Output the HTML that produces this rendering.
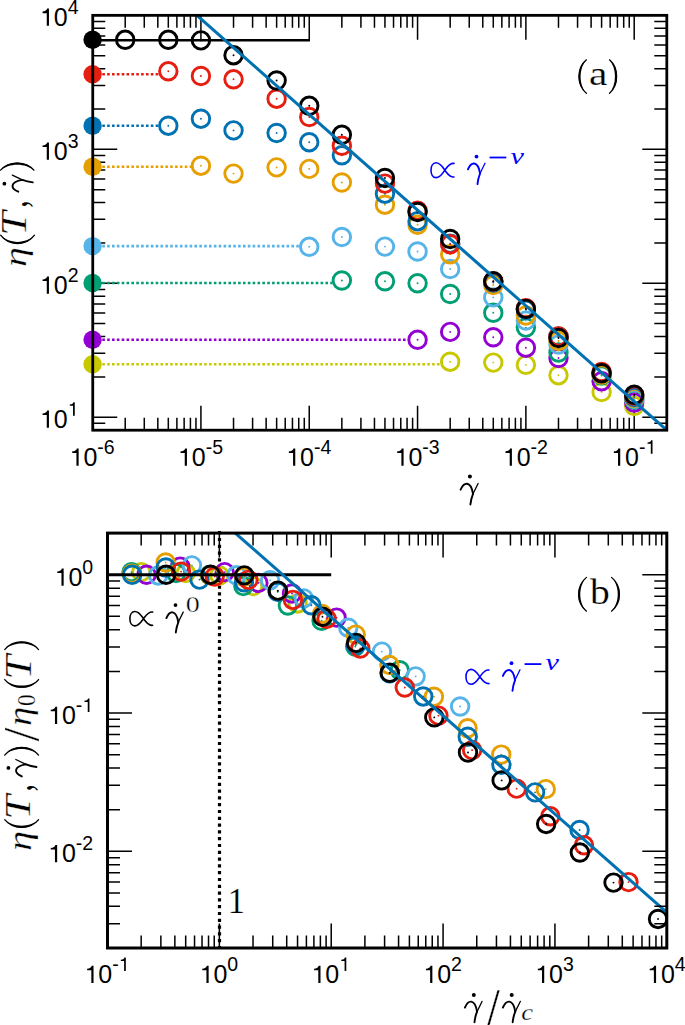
<!DOCTYPE html>
<html><head><meta charset="utf-8"><style>
html,body{margin:0;padding:0;background:#fff;}
svg{display:block;}
</style></head><body>
<svg width="685" height="1025" viewBox="0 0 685 1025">
<rect width="685" height="1025" fill="#fff"/>
<g>
<path d="M125.21 430.2V417.7M125.21 15.35V27.85M144.28 430.2V417.7M144.28 15.35V27.85M157.82 430.2V417.7M157.82 15.35V27.85M168.31 430.2V417.7M168.31 15.35V27.85M176.89 430.2V417.7M176.89 15.35V27.85M184.14 430.2V417.7M184.14 15.35V27.85M190.42 430.2V417.7M190.42 15.35V27.85M195.96 430.2V417.7M195.96 15.35V27.85M200.92 430.2V405.7M200.92 15.35V39.85M233.53 430.2V417.7M233.53 15.35V27.85M252.6 430.2V417.7M252.6 15.35V27.85M266.14 430.2V417.7M266.14 15.35V27.85M276.63 430.2V417.7M276.63 15.35V27.85M285.21 430.2V417.7M285.21 15.35V27.85M292.46 430.2V417.7M292.46 15.35V27.85M298.74 430.2V417.7M298.74 15.35V27.85M304.28 430.2V417.7M304.28 15.35V27.85M309.24 430.2V405.7M309.24 15.35V39.85M341.85 430.2V417.7M341.85 15.35V27.85M360.92 430.2V417.7M360.92 15.35V27.85M374.46 430.2V417.7M374.46 15.35V27.85M384.95 430.2V417.7M384.95 15.35V27.85M393.53 430.2V417.7M393.53 15.35V27.85M400.78 430.2V417.7M400.78 15.35V27.85M407.06 430.2V417.7M407.06 15.35V27.85M412.6 430.2V417.7M412.6 15.35V27.85M417.56 430.2V405.7M417.56 15.35V39.85M450.17 430.2V417.7M450.17 15.35V27.85M469.24 430.2V417.7M469.24 15.35V27.85M482.78 430.2V417.7M482.78 15.35V27.85M493.27 430.2V417.7M493.27 15.35V27.85M501.85 430.2V417.7M501.85 15.35V27.85M509.1 430.2V417.7M509.1 15.35V27.85M515.38 430.2V417.7M515.38 15.35V27.85M520.92 430.2V417.7M520.92 15.35V27.85M525.88 430.2V405.7M525.88 15.35V39.85M558.49 430.2V417.7M558.49 15.35V27.85M577.56 430.2V417.7M577.56 15.35V27.85M591.1 430.2V417.7M591.1 15.35V27.85M601.59 430.2V417.7M601.59 15.35V27.85M610.17 430.2V417.7M610.17 15.35V27.85M617.42 430.2V417.7M617.42 15.35V27.85M623.7 430.2V417.7M623.7 15.35V27.85M629.24 430.2V417.7M629.24 15.35V27.85M634.2 430.2V405.7M634.2 15.35V39.85M92.75 423.36H105.25M666.8 423.36H654.3M92.75 417.23H117.25M666.8 417.23H642.3M92.75 376.9H105.25M666.8 376.9H654.3M92.75 353.31H105.25M666.8 353.31H654.3M92.75 336.58H105.25M666.8 336.58H654.3M92.75 323.6H105.25M666.8 323.6H654.3M92.75 312.99H105.25M666.8 312.99H654.3M92.75 304.02H105.25M666.8 304.02H654.3M92.75 296.25H105.25M666.8 296.25H654.3M92.75 289.4H105.25M666.8 289.4H654.3M92.75 283.27H117.25M666.8 283.27H642.3M92.75 242.94H105.25M666.8 242.94H654.3M92.75 219.35H105.25M666.8 219.35H654.3M92.75 202.62H105.25M666.8 202.62H654.3M92.75 189.64H105.25M666.8 189.64H654.3M92.75 179.03H105.25M666.8 179.03H654.3M92.75 170.06H105.25M666.8 170.06H654.3M92.75 162.29H105.25M666.8 162.29H654.3M92.75 155.44H105.25M666.8 155.44H654.3M92.75 149.31H117.25M666.8 149.31H642.3M92.75 108.98H105.25M666.8 108.98H654.3M92.75 85.39H105.25M666.8 85.39H654.3M92.75 68.66H105.25M666.8 68.66H654.3M92.75 55.68H105.25M666.8 55.68H654.3M92.75 45.07H105.25M666.8 45.07H654.3M92.75 36.1H105.25M666.8 36.1H654.3M92.75 28.33H105.25M666.8 28.33H654.3M92.75 21.48H105.25M666.8 21.48H654.3" stroke="#000" stroke-width="1.5" fill="none"/>
<path d="M92.6 364.2H440.42" stroke="#C8C800" stroke-width="2.6" stroke-dasharray="2.6 2.25" fill="none"/>
<path d="M92.6 339.8H407.81" stroke="#9400D3" stroke-width="2.6" stroke-dasharray="2.6 2.25" fill="none"/>
<path d="M92.6 283H332.1" stroke="#009E73" stroke-width="2.6" stroke-dasharray="2.6 2.25" fill="none"/>
<path d="M92.6 246.1H299.49" stroke="#56B4E9" stroke-width="2.6" stroke-dasharray="2.6 2.25" fill="none"/>
<path d="M92.6 166.8H191.17" stroke="#E69F00" stroke-width="2.6" stroke-dasharray="2.6 2.25" fill="none"/>
<path d="M92.6 125.7H158.56" stroke="#0072B2" stroke-width="2.6" stroke-dasharray="2.6 2.25" fill="none"/>
<path d="M92.6 74.3H158.56" stroke="#E51E10" stroke-width="2.6" stroke-dasharray="2.6 2.25" fill="none"/>
<circle cx="450.17" cy="361.7" r="8.75" fill="none" stroke="#C8C800" stroke-width="2.9"/>
<circle cx="450.17" cy="361.7" r="0.95" fill="#C8C800"/>
<circle cx="493.27" cy="362.6" r="8.75" fill="none" stroke="#C8C800" stroke-width="2.9"/>
<circle cx="493.27" cy="362.6" r="0.95" fill="#C8C800"/>
<circle cx="525.88" cy="364.9" r="8.75" fill="none" stroke="#C8C800" stroke-width="2.9"/>
<circle cx="525.88" cy="364.9" r="0.95" fill="#C8C800"/>
<circle cx="558.49" cy="375.2" r="8.75" fill="none" stroke="#C8C800" stroke-width="2.9"/>
<circle cx="558.49" cy="375.2" r="0.95" fill="#C8C800"/>
<circle cx="601.59" cy="392" r="8.75" fill="none" stroke="#C8C800" stroke-width="2.9"/>
<circle cx="601.59" cy="392" r="0.95" fill="#C8C800"/>
<circle cx="634.2" cy="406" r="8.75" fill="none" stroke="#C8C800" stroke-width="2.9"/>
<circle cx="634.2" cy="406" r="0.95" fill="#C8C800"/>
<circle cx="417.56" cy="339.8" r="8.75" fill="none" stroke="#9400D3" stroke-width="2.9"/>
<circle cx="417.56" cy="339.8" r="0.95" fill="#9400D3"/>
<circle cx="450.17" cy="331.9" r="8.75" fill="none" stroke="#9400D3" stroke-width="2.9"/>
<circle cx="450.17" cy="331.9" r="0.95" fill="#9400D3"/>
<circle cx="493.27" cy="337.3" r="8.75" fill="none" stroke="#9400D3" stroke-width="2.9"/>
<circle cx="493.27" cy="337.3" r="0.95" fill="#9400D3"/>
<circle cx="525.88" cy="347.7" r="8.75" fill="none" stroke="#9400D3" stroke-width="2.9"/>
<circle cx="525.88" cy="347.7" r="0.95" fill="#9400D3"/>
<circle cx="558.49" cy="358" r="8.75" fill="none" stroke="#9400D3" stroke-width="2.9"/>
<circle cx="558.49" cy="358" r="0.95" fill="#9400D3"/>
<circle cx="601.59" cy="381.3" r="8.75" fill="none" stroke="#9400D3" stroke-width="2.9"/>
<circle cx="601.59" cy="381.3" r="0.95" fill="#9400D3"/>
<circle cx="634.2" cy="402.5" r="8.75" fill="none" stroke="#9400D3" stroke-width="2.9"/>
<circle cx="634.2" cy="402.5" r="0.95" fill="#9400D3"/>
<circle cx="341.85" cy="280.5" r="8.75" fill="none" stroke="#009E73" stroke-width="2.9"/>
<circle cx="341.85" cy="280.5" r="0.95" fill="#009E73"/>
<circle cx="384.95" cy="281.3" r="8.75" fill="none" stroke="#009E73" stroke-width="2.9"/>
<circle cx="384.95" cy="281.3" r="0.95" fill="#009E73"/>
<circle cx="417.56" cy="283.3" r="8.75" fill="none" stroke="#009E73" stroke-width="2.9"/>
<circle cx="417.56" cy="283.3" r="0.95" fill="#009E73"/>
<circle cx="450.17" cy="294" r="8.75" fill="none" stroke="#009E73" stroke-width="2.9"/>
<circle cx="450.17" cy="294" r="0.95" fill="#009E73"/>
<circle cx="493.27" cy="312.8" r="8.75" fill="none" stroke="#009E73" stroke-width="2.9"/>
<circle cx="493.27" cy="312.8" r="0.95" fill="#009E73"/>
<circle cx="525.88" cy="327.6" r="8.75" fill="none" stroke="#009E73" stroke-width="2.9"/>
<circle cx="525.88" cy="327.6" r="0.95" fill="#009E73"/>
<circle cx="558.49" cy="352.5" r="8.75" fill="none" stroke="#009E73" stroke-width="2.9"/>
<circle cx="558.49" cy="352.5" r="0.95" fill="#009E73"/>
<circle cx="601.59" cy="375.5" r="8.75" fill="none" stroke="#009E73" stroke-width="2.9"/>
<circle cx="601.59" cy="375.5" r="0.95" fill="#009E73"/>
<circle cx="634.2" cy="399.6" r="8.75" fill="none" stroke="#009E73" stroke-width="2.9"/>
<circle cx="634.2" cy="399.6" r="0.95" fill="#009E73"/>
<circle cx="309.24" cy="246.8" r="8.75" fill="none" stroke="#56B4E9" stroke-width="2.9"/>
<circle cx="309.24" cy="246.8" r="0.95" fill="#56B4E9"/>
<circle cx="341.85" cy="237" r="8.75" fill="none" stroke="#56B4E9" stroke-width="2.9"/>
<circle cx="341.85" cy="237" r="0.95" fill="#56B4E9"/>
<circle cx="384.95" cy="246.6" r="8.75" fill="none" stroke="#56B4E9" stroke-width="2.9"/>
<circle cx="384.95" cy="246.6" r="0.95" fill="#56B4E9"/>
<circle cx="417.56" cy="251.5" r="8.75" fill="none" stroke="#56B4E9" stroke-width="2.9"/>
<circle cx="417.56" cy="251.5" r="0.95" fill="#56B4E9"/>
<circle cx="450.17" cy="269" r="8.75" fill="none" stroke="#56B4E9" stroke-width="2.9"/>
<circle cx="450.17" cy="269" r="0.95" fill="#56B4E9"/>
<circle cx="493.27" cy="297.4" r="8.75" fill="none" stroke="#56B4E9" stroke-width="2.9"/>
<circle cx="493.27" cy="297.4" r="0.95" fill="#56B4E9"/>
<circle cx="525.88" cy="320.6" r="8.75" fill="none" stroke="#56B4E9" stroke-width="2.9"/>
<circle cx="525.88" cy="320.6" r="0.95" fill="#56B4E9"/>
<circle cx="558.49" cy="344.6" r="8.75" fill="none" stroke="#56B4E9" stroke-width="2.9"/>
<circle cx="558.49" cy="344.6" r="0.95" fill="#56B4E9"/>
<circle cx="601.59" cy="373.7" r="8.75" fill="none" stroke="#56B4E9" stroke-width="2.9"/>
<circle cx="601.59" cy="373.7" r="0.95" fill="#56B4E9"/>
<circle cx="634.2" cy="399" r="8.75" fill="none" stroke="#56B4E9" stroke-width="2.9"/>
<circle cx="634.2" cy="399" r="0.95" fill="#56B4E9"/>
<circle cx="200.92" cy="165.7" r="8.75" fill="none" stroke="#E69F00" stroke-width="2.9"/>
<circle cx="200.92" cy="165.7" r="0.95" fill="#E69F00"/>
<circle cx="233.53" cy="173.6" r="8.75" fill="none" stroke="#E69F00" stroke-width="2.9"/>
<circle cx="233.53" cy="173.6" r="0.95" fill="#E69F00"/>
<circle cx="276.63" cy="167.4" r="8.75" fill="none" stroke="#E69F00" stroke-width="2.9"/>
<circle cx="276.63" cy="167.4" r="0.95" fill="#E69F00"/>
<circle cx="309.24" cy="168.9" r="8.75" fill="none" stroke="#E69F00" stroke-width="2.9"/>
<circle cx="309.24" cy="168.9" r="0.95" fill="#E69F00"/>
<circle cx="341.85" cy="182.5" r="8.75" fill="none" stroke="#E69F00" stroke-width="2.9"/>
<circle cx="341.85" cy="182.5" r="0.95" fill="#E69F00"/>
<circle cx="384.95" cy="204.7" r="8.75" fill="none" stroke="#E69F00" stroke-width="2.9"/>
<circle cx="384.95" cy="204.7" r="0.95" fill="#E69F00"/>
<circle cx="417.56" cy="224.8" r="8.75" fill="none" stroke="#E69F00" stroke-width="2.9"/>
<circle cx="417.56" cy="224.8" r="0.95" fill="#E69F00"/>
<circle cx="450.17" cy="254.2" r="8.75" fill="none" stroke="#E69F00" stroke-width="2.9"/>
<circle cx="450.17" cy="254.2" r="0.95" fill="#E69F00"/>
<circle cx="493.27" cy="285" r="8.75" fill="none" stroke="#E69F00" stroke-width="2.9"/>
<circle cx="493.27" cy="285" r="0.95" fill="#E69F00"/>
<circle cx="525.88" cy="315.5" r="8.75" fill="none" stroke="#E69F00" stroke-width="2.9"/>
<circle cx="525.88" cy="315.5" r="0.95" fill="#E69F00"/>
<circle cx="558.49" cy="341" r="8.75" fill="none" stroke="#E69F00" stroke-width="2.9"/>
<circle cx="558.49" cy="341" r="0.95" fill="#E69F00"/>
<circle cx="601.59" cy="374.5" r="8.75" fill="none" stroke="#E69F00" stroke-width="2.9"/>
<circle cx="601.59" cy="374.5" r="0.95" fill="#E69F00"/>
<circle cx="634.2" cy="398" r="8.75" fill="none" stroke="#E69F00" stroke-width="2.9"/>
<circle cx="634.2" cy="398" r="0.95" fill="#E69F00"/>
<circle cx="168.31" cy="125.7" r="8.75" fill="none" stroke="#0072B2" stroke-width="2.9"/>
<circle cx="168.31" cy="125.7" r="0.95" fill="#0072B2"/>
<circle cx="200.92" cy="118.7" r="8.75" fill="none" stroke="#0072B2" stroke-width="2.9"/>
<circle cx="200.92" cy="118.7" r="0.95" fill="#0072B2"/>
<circle cx="233.53" cy="130.4" r="8.75" fill="none" stroke="#0072B2" stroke-width="2.9"/>
<circle cx="233.53" cy="130.4" r="0.95" fill="#0072B2"/>
<circle cx="276.63" cy="133" r="8.75" fill="none" stroke="#0072B2" stroke-width="2.9"/>
<circle cx="276.63" cy="133" r="0.95" fill="#0072B2"/>
<circle cx="309.24" cy="142.2" r="8.75" fill="none" stroke="#0072B2" stroke-width="2.9"/>
<circle cx="309.24" cy="142.2" r="0.95" fill="#0072B2"/>
<circle cx="341.85" cy="155.3" r="8.75" fill="none" stroke="#0072B2" stroke-width="2.9"/>
<circle cx="341.85" cy="155.3" r="0.95" fill="#0072B2"/>
<circle cx="384.95" cy="193.7" r="8.75" fill="none" stroke="#0072B2" stroke-width="2.9"/>
<circle cx="384.95" cy="193.7" r="0.95" fill="#0072B2"/>
<circle cx="417.56" cy="221.2" r="8.75" fill="none" stroke="#0072B2" stroke-width="2.9"/>
<circle cx="417.56" cy="221.2" r="0.95" fill="#0072B2"/>
<circle cx="450.17" cy="243.6" r="8.75" fill="none" stroke="#0072B2" stroke-width="2.9"/>
<circle cx="450.17" cy="243.6" r="0.95" fill="#0072B2"/>
<circle cx="493.27" cy="282.6" r="8.75" fill="none" stroke="#0072B2" stroke-width="2.9"/>
<circle cx="493.27" cy="282.6" r="0.95" fill="#0072B2"/>
<circle cx="525.88" cy="309.8" r="8.75" fill="none" stroke="#0072B2" stroke-width="2.9"/>
<circle cx="525.88" cy="309.8" r="0.95" fill="#0072B2"/>
<circle cx="558.49" cy="336.5" r="8.75" fill="none" stroke="#0072B2" stroke-width="2.9"/>
<circle cx="558.49" cy="336.5" r="0.95" fill="#0072B2"/>
<circle cx="601.59" cy="372.9" r="8.75" fill="none" stroke="#0072B2" stroke-width="2.9"/>
<circle cx="601.59" cy="372.9" r="0.95" fill="#0072B2"/>
<circle cx="634.2" cy="397" r="8.75" fill="none" stroke="#0072B2" stroke-width="2.9"/>
<circle cx="634.2" cy="397" r="0.95" fill="#0072B2"/>
<circle cx="168.31" cy="71.3" r="8.75" fill="none" stroke="#E51E10" stroke-width="2.9"/>
<circle cx="168.31" cy="71.3" r="0.95" fill="#E51E10"/>
<circle cx="200.92" cy="76" r="8.75" fill="none" stroke="#E51E10" stroke-width="2.9"/>
<circle cx="200.92" cy="76" r="0.95" fill="#E51E10"/>
<circle cx="233.53" cy="79.3" r="8.75" fill="none" stroke="#E51E10" stroke-width="2.9"/>
<circle cx="233.53" cy="79.3" r="0.95" fill="#E51E10"/>
<circle cx="276.63" cy="98.7" r="8.75" fill="none" stroke="#E51E10" stroke-width="2.9"/>
<circle cx="276.63" cy="98.7" r="0.95" fill="#E51E10"/>
<circle cx="309.24" cy="117" r="8.75" fill="none" stroke="#E51E10" stroke-width="2.9"/>
<circle cx="309.24" cy="117" r="0.95" fill="#E51E10"/>
<circle cx="341.85" cy="145.8" r="8.75" fill="none" stroke="#E51E10" stroke-width="2.9"/>
<circle cx="341.85" cy="145.8" r="0.95" fill="#E51E10"/>
<circle cx="384.95" cy="183.6" r="8.75" fill="none" stroke="#E51E10" stroke-width="2.9"/>
<circle cx="384.95" cy="183.6" r="0.95" fill="#E51E10"/>
<circle cx="417.56" cy="210.8" r="8.75" fill="none" stroke="#E51E10" stroke-width="2.9"/>
<circle cx="417.56" cy="210.8" r="0.95" fill="#E51E10"/>
<circle cx="450.17" cy="244.2" r="8.75" fill="none" stroke="#E51E10" stroke-width="2.9"/>
<circle cx="450.17" cy="244.2" r="0.95" fill="#E51E10"/>
<circle cx="493.27" cy="281.5" r="8.75" fill="none" stroke="#E51E10" stroke-width="2.9"/>
<circle cx="493.27" cy="281.5" r="0.95" fill="#E51E10"/>
<circle cx="525.88" cy="308.3" r="8.75" fill="none" stroke="#E51E10" stroke-width="2.9"/>
<circle cx="525.88" cy="308.3" r="0.95" fill="#E51E10"/>
<circle cx="558.49" cy="336.4" r="8.75" fill="none" stroke="#E51E10" stroke-width="2.9"/>
<circle cx="558.49" cy="336.4" r="0.95" fill="#E51E10"/>
<circle cx="601.59" cy="372" r="8.75" fill="none" stroke="#E51E10" stroke-width="2.9"/>
<circle cx="601.59" cy="372" r="0.95" fill="#E51E10"/>
<circle cx="634.2" cy="395.5" r="8.75" fill="none" stroke="#E51E10" stroke-width="2.9"/>
<circle cx="634.2" cy="395.5" r="0.95" fill="#E51E10"/>
<circle cx="125.21" cy="39.8" r="8.75" fill="none" stroke="#000000" stroke-width="2.9"/>
<circle cx="125.21" cy="39.8" r="0.95" fill="#000000"/>
<circle cx="168.31" cy="39.8" r="8.75" fill="none" stroke="#000000" stroke-width="2.9"/>
<circle cx="168.31" cy="39.8" r="0.95" fill="#000000"/>
<circle cx="200.92" cy="40.4" r="8.75" fill="none" stroke="#000000" stroke-width="2.9"/>
<circle cx="200.92" cy="40.4" r="0.95" fill="#000000"/>
<circle cx="233.53" cy="55.2" r="8.75" fill="none" stroke="#000000" stroke-width="2.9"/>
<circle cx="233.53" cy="55.2" r="0.95" fill="#000000"/>
<circle cx="276.63" cy="80.5" r="8.75" fill="none" stroke="#000000" stroke-width="2.9"/>
<circle cx="276.63" cy="80.5" r="0.95" fill="#000000"/>
<circle cx="309.24" cy="105.8" r="8.75" fill="none" stroke="#000000" stroke-width="2.9"/>
<circle cx="309.24" cy="105.8" r="0.95" fill="#000000"/>
<circle cx="341.85" cy="134.8" r="8.75" fill="none" stroke="#000000" stroke-width="2.9"/>
<circle cx="341.85" cy="134.8" r="0.95" fill="#000000"/>
<circle cx="384.95" cy="178" r="8.75" fill="none" stroke="#000000" stroke-width="2.9"/>
<circle cx="384.95" cy="178" r="0.95" fill="#000000"/>
<circle cx="417.56" cy="212" r="8.75" fill="none" stroke="#000000" stroke-width="2.9"/>
<circle cx="417.56" cy="212" r="0.95" fill="#000000"/>
<circle cx="450.17" cy="239" r="8.75" fill="none" stroke="#000000" stroke-width="2.9"/>
<circle cx="450.17" cy="239" r="0.95" fill="#000000"/>
<circle cx="493.27" cy="281.2" r="8.75" fill="none" stroke="#000000" stroke-width="2.9"/>
<circle cx="493.27" cy="281.2" r="0.95" fill="#000000"/>
<circle cx="525.88" cy="308.9" r="8.75" fill="none" stroke="#000000" stroke-width="2.9"/>
<circle cx="525.88" cy="308.9" r="0.95" fill="#000000"/>
<circle cx="558.49" cy="338" r="8.75" fill="none" stroke="#000000" stroke-width="2.9"/>
<circle cx="558.49" cy="338" r="0.95" fill="#000000"/>
<circle cx="601.59" cy="373.2" r="8.75" fill="none" stroke="#000000" stroke-width="2.9"/>
<circle cx="601.59" cy="373.2" r="0.95" fill="#000000"/>
<circle cx="634.2" cy="394.8" r="8.75" fill="none" stroke="#000000" stroke-width="2.9"/>
<circle cx="634.2" cy="394.8" r="0.95" fill="#000000"/>
<path d="M92.6 40.2H310" stroke="#000" stroke-width="2.4" fill="none"/>
<circle cx="92.6" cy="364.2" r="9.2" fill="#C8C800"/>
<circle cx="92.6" cy="339.8" r="9.2" fill="#9400D3"/>
<circle cx="92.6" cy="283" r="9.2" fill="#009E73"/>
<circle cx="92.6" cy="246.1" r="9.2" fill="#56B4E9"/>
<circle cx="92.6" cy="166.8" r="9.2" fill="#E69F00"/>
<circle cx="92.6" cy="125.7" r="9.2" fill="#0072B2"/>
<circle cx="92.6" cy="74.3" r="9.2" fill="#E51E10"/>
<circle cx="92.6" cy="39.8" r="9.2" fill="#000000"/>
<path d="M196.9 15.35L666.8 430.2" stroke="#0072B2" stroke-width="3.1" fill="none"/>
<rect x="92.75" y="15.35" width="574.05" height="414.85" fill="none" stroke="#000" stroke-width="2.8"/>
</g>
<defs><clipPath id="cb"><rect x="107.5" y="533.1" width="559.3" height="414.9"/></clipPath></defs>
<path d="M219.5 531.1V948" stroke="#000" stroke-width="3.2" stroke-dasharray="3.2 3.6" fill="none"/>
<g clip-path="url(#cb)">
<circle cx="141.27" cy="572.15" r="8.75" fill="none" stroke="#C8C800" stroke-width="2.9"/>
<circle cx="141.27" cy="572.15" r="0.95" fill="#C8C800"/>
<circle cx="185.78" cy="573.08" r="8.75" fill="none" stroke="#C8C800" stroke-width="2.9"/>
<circle cx="185.78" cy="573.08" r="0.95" fill="#C8C800"/>
<circle cx="219.46" cy="575.46" r="8.75" fill="none" stroke="#C8C800" stroke-width="2.9"/>
<circle cx="219.46" cy="575.46" r="0.95" fill="#C8C800"/>
<circle cx="253.13" cy="586.09" r="8.75" fill="none" stroke="#C8C800" stroke-width="2.9"/>
<circle cx="253.13" cy="586.09" r="0.95" fill="#C8C800"/>
<circle cx="297.64" cy="603.43" r="8.75" fill="none" stroke="#C8C800" stroke-width="2.9"/>
<circle cx="297.64" cy="603.43" r="0.95" fill="#C8C800"/>
<circle cx="146.51" cy="574.73" r="8.75" fill="none" stroke="#9400D3" stroke-width="2.9"/>
<circle cx="146.51" cy="574.73" r="0.95" fill="#9400D3"/>
<circle cx="180.18" cy="566.58" r="8.75" fill="none" stroke="#9400D3" stroke-width="2.9"/>
<circle cx="180.18" cy="566.58" r="0.95" fill="#9400D3"/>
<circle cx="224.69" cy="572.15" r="8.75" fill="none" stroke="#9400D3" stroke-width="2.9"/>
<circle cx="224.69" cy="572.15" r="0.95" fill="#9400D3"/>
<circle cx="258.37" cy="582.89" r="8.75" fill="none" stroke="#9400D3" stroke-width="2.9"/>
<circle cx="258.37" cy="582.89" r="0.95" fill="#9400D3"/>
<circle cx="292.04" cy="593.52" r="8.75" fill="none" stroke="#9400D3" stroke-width="2.9"/>
<circle cx="292.04" cy="593.52" r="0.95" fill="#9400D3"/>
<circle cx="336.55" cy="617.58" r="8.75" fill="none" stroke="#9400D3" stroke-width="2.9"/>
<circle cx="336.55" cy="617.58" r="0.95" fill="#9400D3"/>
<circle cx="131.51" cy="572.15" r="8.75" fill="none" stroke="#009E73" stroke-width="2.9"/>
<circle cx="131.51" cy="572.15" r="0.95" fill="#009E73"/>
<circle cx="176.03" cy="572.98" r="8.75" fill="none" stroke="#009E73" stroke-width="2.9"/>
<circle cx="176.03" cy="572.98" r="0.95" fill="#009E73"/>
<circle cx="209.7" cy="575.04" r="8.75" fill="none" stroke="#009E73" stroke-width="2.9"/>
<circle cx="209.7" cy="575.04" r="0.95" fill="#009E73"/>
<circle cx="243.37" cy="586.09" r="8.75" fill="none" stroke="#009E73" stroke-width="2.9"/>
<circle cx="243.37" cy="586.09" r="0.95" fill="#009E73"/>
<circle cx="287.89" cy="605.5" r="8.75" fill="none" stroke="#009E73" stroke-width="2.9"/>
<circle cx="287.89" cy="605.5" r="0.95" fill="#009E73"/>
<circle cx="321.56" cy="620.78" r="8.75" fill="none" stroke="#009E73" stroke-width="2.9"/>
<circle cx="321.56" cy="620.78" r="0.95" fill="#009E73"/>
<circle cx="355.23" cy="646.48" r="8.75" fill="none" stroke="#009E73" stroke-width="2.9"/>
<circle cx="355.23" cy="646.48" r="0.95" fill="#009E73"/>
<circle cx="399.75" cy="670.23" r="8.75" fill="none" stroke="#009E73" stroke-width="2.9"/>
<circle cx="399.75" cy="670.23" r="0.95" fill="#009E73"/>
<circle cx="158.22" cy="575.46" r="8.75" fill="none" stroke="#56B4E9" stroke-width="2.9"/>
<circle cx="158.22" cy="575.46" r="0.95" fill="#56B4E9"/>
<circle cx="191.9" cy="565.34" r="8.75" fill="none" stroke="#56B4E9" stroke-width="2.9"/>
<circle cx="191.9" cy="565.34" r="0.95" fill="#56B4E9"/>
<circle cx="236.41" cy="575.25" r="8.75" fill="none" stroke="#56B4E9" stroke-width="2.9"/>
<circle cx="236.41" cy="575.25" r="0.95" fill="#56B4E9"/>
<circle cx="270.08" cy="580.31" r="8.75" fill="none" stroke="#56B4E9" stroke-width="2.9"/>
<circle cx="270.08" cy="580.31" r="0.95" fill="#56B4E9"/>
<circle cx="303.76" cy="598.37" r="8.75" fill="none" stroke="#56B4E9" stroke-width="2.9"/>
<circle cx="303.76" cy="598.37" r="0.95" fill="#56B4E9"/>
<circle cx="348.27" cy="627.69" r="8.75" fill="none" stroke="#56B4E9" stroke-width="2.9"/>
<circle cx="348.27" cy="627.69" r="0.95" fill="#56B4E9"/>
<circle cx="381.94" cy="651.65" r="8.75" fill="none" stroke="#56B4E9" stroke-width="2.9"/>
<circle cx="381.94" cy="651.65" r="0.95" fill="#56B4E9"/>
<circle cx="415.62" cy="676.42" r="8.75" fill="none" stroke="#56B4E9" stroke-width="2.9"/>
<circle cx="415.62" cy="676.42" r="0.95" fill="#56B4E9"/>
<circle cx="460.13" cy="706.47" r="8.75" fill="none" stroke="#56B4E9" stroke-width="2.9"/>
<circle cx="460.13" cy="706.47" r="0.95" fill="#56B4E9"/>
<circle cx="131.99" cy="573.6" r="8.75" fill="none" stroke="#E69F00" stroke-width="2.9"/>
<circle cx="131.99" cy="573.6" r="0.95" fill="#E69F00"/>
<circle cx="165.67" cy="562.5" r="8.75" fill="none" stroke="#E69F00" stroke-width="2.9"/>
<circle cx="165.67" cy="562.5" r="0.95" fill="#E69F00"/>
<circle cx="210.18" cy="575.35" r="8.75" fill="none" stroke="#E69F00" stroke-width="2.9"/>
<circle cx="210.18" cy="575.35" r="0.95" fill="#E69F00"/>
<circle cx="243.85" cy="576.9" r="8.75" fill="none" stroke="#E69F00" stroke-width="2.9"/>
<circle cx="243.85" cy="576.9" r="0.95" fill="#E69F00"/>
<circle cx="277.53" cy="590.94" r="8.75" fill="none" stroke="#E69F00" stroke-width="2.9"/>
<circle cx="277.53" cy="590.94" r="0.95" fill="#E69F00"/>
<circle cx="322.04" cy="613.86" r="8.75" fill="none" stroke="#E69F00" stroke-width="2.9"/>
<circle cx="322.04" cy="613.86" r="0.95" fill="#E69F00"/>
<circle cx="355.71" cy="634.61" r="8.75" fill="none" stroke="#E69F00" stroke-width="2.9"/>
<circle cx="355.71" cy="634.61" r="0.95" fill="#E69F00"/>
<circle cx="389.39" cy="664.96" r="8.75" fill="none" stroke="#E69F00" stroke-width="2.9"/>
<circle cx="389.39" cy="664.96" r="0.95" fill="#E69F00"/>
<circle cx="433.9" cy="696.76" r="8.75" fill="none" stroke="#E69F00" stroke-width="2.9"/>
<circle cx="433.9" cy="696.76" r="0.95" fill="#E69F00"/>
<circle cx="467.57" cy="728.25" r="8.75" fill="none" stroke="#E69F00" stroke-width="2.9"/>
<circle cx="467.57" cy="728.25" r="0.95" fill="#E69F00"/>
<circle cx="501.25" cy="754.58" r="8.75" fill="none" stroke="#E69F00" stroke-width="2.9"/>
<circle cx="501.25" cy="754.58" r="0.95" fill="#E69F00"/>
<circle cx="545.76" cy="789.16" r="8.75" fill="none" stroke="#E69F00" stroke-width="2.9"/>
<circle cx="545.76" cy="789.16" r="0.95" fill="#E69F00"/>
<circle cx="132.15" cy="574.73" r="8.75" fill="none" stroke="#0072B2" stroke-width="2.9"/>
<circle cx="132.15" cy="574.73" r="0.95" fill="#0072B2"/>
<circle cx="165.83" cy="567.51" r="8.75" fill="none" stroke="#0072B2" stroke-width="2.9"/>
<circle cx="165.83" cy="567.51" r="0.95" fill="#0072B2"/>
<circle cx="199.5" cy="579.58" r="8.75" fill="none" stroke="#0072B2" stroke-width="2.9"/>
<circle cx="199.5" cy="579.58" r="0.95" fill="#0072B2"/>
<circle cx="244.01" cy="582.27" r="8.75" fill="none" stroke="#0072B2" stroke-width="2.9"/>
<circle cx="244.01" cy="582.27" r="0.95" fill="#0072B2"/>
<circle cx="277.69" cy="591.77" r="8.75" fill="none" stroke="#0072B2" stroke-width="2.9"/>
<circle cx="277.69" cy="591.77" r="0.95" fill="#0072B2"/>
<circle cx="311.36" cy="605.29" r="8.75" fill="none" stroke="#0072B2" stroke-width="2.9"/>
<circle cx="311.36" cy="605.29" r="0.95" fill="#0072B2"/>
<circle cx="355.87" cy="644.94" r="8.75" fill="none" stroke="#0072B2" stroke-width="2.9"/>
<circle cx="355.87" cy="644.94" r="0.95" fill="#0072B2"/>
<circle cx="389.55" cy="673.33" r="8.75" fill="none" stroke="#0072B2" stroke-width="2.9"/>
<circle cx="389.55" cy="673.33" r="0.95" fill="#0072B2"/>
<circle cx="423.22" cy="696.45" r="8.75" fill="none" stroke="#0072B2" stroke-width="2.9"/>
<circle cx="423.22" cy="696.45" r="0.95" fill="#0072B2"/>
<circle cx="467.73" cy="736.72" r="8.75" fill="none" stroke="#0072B2" stroke-width="2.9"/>
<circle cx="467.73" cy="736.72" r="0.95" fill="#0072B2"/>
<circle cx="501.41" cy="764.8" r="8.75" fill="none" stroke="#0072B2" stroke-width="2.9"/>
<circle cx="501.41" cy="764.8" r="0.95" fill="#0072B2"/>
<circle cx="535.08" cy="792.36" r="8.75" fill="none" stroke="#0072B2" stroke-width="2.9"/>
<circle cx="535.08" cy="792.36" r="0.95" fill="#0072B2"/>
<circle cx="579.59" cy="829.94" r="8.75" fill="none" stroke="#0072B2" stroke-width="2.9"/>
<circle cx="579.59" cy="829.94" r="0.95" fill="#0072B2"/>
<circle cx="181.06" cy="571.64" r="8.75" fill="none" stroke="#E51E10" stroke-width="2.9"/>
<circle cx="181.06" cy="571.64" r="0.95" fill="#E51E10"/>
<circle cx="214.73" cy="576.49" r="8.75" fill="none" stroke="#E51E10" stroke-width="2.9"/>
<circle cx="214.73" cy="576.49" r="0.95" fill="#E51E10"/>
<circle cx="248.4" cy="579.89" r="8.75" fill="none" stroke="#E51E10" stroke-width="2.9"/>
<circle cx="248.4" cy="579.89" r="0.95" fill="#E51E10"/>
<circle cx="292.92" cy="599.92" r="8.75" fill="none" stroke="#E51E10" stroke-width="2.9"/>
<circle cx="292.92" cy="599.92" r="0.95" fill="#E51E10"/>
<circle cx="326.59" cy="618.82" r="8.75" fill="none" stroke="#E51E10" stroke-width="2.9"/>
<circle cx="326.59" cy="618.82" r="0.95" fill="#E51E10"/>
<circle cx="360.26" cy="648.55" r="8.75" fill="none" stroke="#E51E10" stroke-width="2.9"/>
<circle cx="360.26" cy="648.55" r="0.95" fill="#E51E10"/>
<circle cx="404.78" cy="687.57" r="8.75" fill="none" stroke="#E51E10" stroke-width="2.9"/>
<circle cx="404.78" cy="687.57" r="0.95" fill="#E51E10"/>
<circle cx="438.45" cy="715.65" r="8.75" fill="none" stroke="#E51E10" stroke-width="2.9"/>
<circle cx="438.45" cy="715.65" r="0.95" fill="#E51E10"/>
<circle cx="472.12" cy="750.14" r="8.75" fill="none" stroke="#E51E10" stroke-width="2.9"/>
<circle cx="472.12" cy="750.14" r="0.95" fill="#E51E10"/>
<circle cx="516.64" cy="788.65" r="8.75" fill="none" stroke="#E51E10" stroke-width="2.9"/>
<circle cx="516.64" cy="788.65" r="0.95" fill="#E51E10"/>
<circle cx="550.31" cy="816.31" r="8.75" fill="none" stroke="#E51E10" stroke-width="2.9"/>
<circle cx="550.31" cy="816.31" r="0.95" fill="#E51E10"/>
<circle cx="583.98" cy="845.32" r="8.75" fill="none" stroke="#E51E10" stroke-width="2.9"/>
<circle cx="583.98" cy="845.32" r="0.95" fill="#E51E10"/>
<circle cx="628.5" cy="882.08" r="8.75" fill="none" stroke="#E51E10" stroke-width="2.9"/>
<circle cx="628.5" cy="882.08" r="0.95" fill="#E51E10"/>
<circle cx="166.07" cy="574.73" r="8.75" fill="none" stroke="#000000" stroke-width="2.9"/>
<circle cx="166.07" cy="574.73" r="0.95" fill="#000000"/>
<circle cx="210.58" cy="574.73" r="8.75" fill="none" stroke="#000000" stroke-width="2.9"/>
<circle cx="210.58" cy="574.73" r="0.95" fill="#000000"/>
<circle cx="244.26" cy="575.35" r="8.75" fill="none" stroke="#000000" stroke-width="2.9"/>
<circle cx="244.26" cy="575.35" r="0.95" fill="#000000"/>
<circle cx="277.93" cy="590.63" r="8.75" fill="none" stroke="#000000" stroke-width="2.9"/>
<circle cx="277.93" cy="590.63" r="0.95" fill="#000000"/>
<circle cx="322.44" cy="616.75" r="8.75" fill="none" stroke="#000000" stroke-width="2.9"/>
<circle cx="322.44" cy="616.75" r="0.95" fill="#000000"/>
<circle cx="356.12" cy="642.87" r="8.75" fill="none" stroke="#000000" stroke-width="2.9"/>
<circle cx="356.12" cy="642.87" r="0.95" fill="#000000"/>
<circle cx="389.79" cy="672.81" r="8.75" fill="none" stroke="#000000" stroke-width="2.9"/>
<circle cx="389.79" cy="672.81" r="0.95" fill="#000000"/>
<circle cx="434.3" cy="717.41" r="8.75" fill="none" stroke="#000000" stroke-width="2.9"/>
<circle cx="434.3" cy="717.41" r="0.95" fill="#000000"/>
<circle cx="467.98" cy="752.51" r="8.75" fill="none" stroke="#000000" stroke-width="2.9"/>
<circle cx="467.98" cy="752.51" r="0.95" fill="#000000"/>
<circle cx="501.65" cy="780.39" r="8.75" fill="none" stroke="#000000" stroke-width="2.9"/>
<circle cx="501.65" cy="780.39" r="0.95" fill="#000000"/>
<circle cx="546.16" cy="823.95" r="8.75" fill="none" stroke="#000000" stroke-width="2.9"/>
<circle cx="546.16" cy="823.95" r="0.95" fill="#000000"/>
<circle cx="579.84" cy="852.55" r="8.75" fill="none" stroke="#000000" stroke-width="2.9"/>
<circle cx="579.84" cy="852.55" r="0.95" fill="#000000"/>
<circle cx="613.51" cy="882.59" r="8.75" fill="none" stroke="#000000" stroke-width="2.9"/>
<circle cx="613.51" cy="882.59" r="0.95" fill="#000000"/>
<circle cx="658.02" cy="918.93" r="8.75" fill="none" stroke="#000000" stroke-width="2.9"/>
<circle cx="658.02" cy="918.93" r="0.95" fill="#000000"/>
</g>
<path d="M107.5 574.7H331.2" stroke="#000" stroke-width="3" fill="none"/>
<path d="M235.3 533.1L666.8 912.4" stroke="#0072B2" stroke-width="3.1" fill="none"/>
<path d="M141.17 948V935.5M141.17 533.1V545.6M160.87 948V935.5M160.87 533.1V545.6M174.85 948V935.5M174.85 533.1V545.6M185.69 948V935.5M185.69 533.1V545.6M194.54 948V935.5M194.54 533.1V545.6M202.03 948V935.5M202.03 533.1V545.6M208.52 948V935.5M208.52 533.1V545.6M214.24 948V935.5M214.24 533.1V545.6M219.36 948V923.5M219.36 533.1V557.6M253.03 948V935.5M253.03 533.1V545.6M272.73 948V935.5M272.73 533.1V545.6M286.71 948V935.5M286.71 533.1V545.6M297.55 948V935.5M297.55 533.1V545.6M306.4 948V935.5M306.4 533.1V545.6M313.89 948V935.5M313.89 533.1V545.6M320.38 948V935.5M320.38 533.1V545.6M326.1 948V935.5M326.1 533.1V545.6M331.22 948V923.5M331.22 533.1V557.6M364.89 948V935.5M364.89 533.1V545.6M384.59 948V935.5M384.59 533.1V545.6M398.57 948V935.5M398.57 533.1V545.6M409.41 948V935.5M409.41 533.1V545.6M418.26 948V935.5M418.26 533.1V545.6M425.75 948V935.5M425.75 533.1V545.6M432.24 948V935.5M432.24 533.1V545.6M437.96 948V935.5M437.96 533.1V545.6M443.08 948V923.5M443.08 533.1V557.6M476.75 948V935.5M476.75 533.1V545.6M496.45 948V935.5M496.45 533.1V545.6M510.43 948V935.5M510.43 533.1V545.6M521.27 948V935.5M521.27 533.1V545.6M530.12 948V935.5M530.12 533.1V545.6M537.61 948V935.5M537.61 533.1V545.6M544.1 948V935.5M544.1 533.1V545.6M549.82 948V935.5M549.82 533.1V545.6M554.94 948V923.5M554.94 533.1V557.6M588.61 948V935.5M588.61 533.1V545.6M608.31 948V935.5M608.31 533.1V545.6M622.29 948V935.5M622.29 533.1V545.6M633.13 948V935.5M633.13 533.1V545.6M641.98 948V935.5M641.98 533.1V545.6M649.47 948V935.5M649.47 533.1V545.6M655.96 948V935.5M655.96 533.1V545.6M661.68 948V935.5M661.68 533.1V545.6M107.5 923.65H120M666.8 923.65H654.3M107.5 906.37H120M666.8 906.37H654.3M107.5 892.96H120M666.8 892.96H654.3M107.5 882.01H120M666.8 882.01H654.3M107.5 872.76H120M666.8 872.76H654.3M107.5 864.74H120M666.8 864.74H654.3M107.5 857.66H120M666.8 857.66H654.3M107.5 851.33H132M666.8 851.33H642.3M107.5 809.7H120M666.8 809.7H654.3M107.5 785.35H120M666.8 785.35H654.3M107.5 768.07H120M666.8 768.07H654.3M107.5 754.66H120M666.8 754.66H654.3M107.5 743.71H120M666.8 743.71H654.3M107.5 734.46H120M666.8 734.46H654.3M107.5 726.44H120M666.8 726.44H654.3M107.5 719.36H120M666.8 719.36H654.3M107.5 713.03H132M666.8 713.03H642.3M107.5 671.4H120M666.8 671.4H654.3M107.5 647.05H120M666.8 647.05H654.3M107.5 629.77H120M666.8 629.77H654.3M107.5 616.36H120M666.8 616.36H654.3M107.5 605.41H120M666.8 605.41H654.3M107.5 596.16H120M666.8 596.16H654.3M107.5 588.14H120M666.8 588.14H654.3M107.5 581.06H120M666.8 581.06H654.3M107.5 574.73H132M666.8 574.73H642.3" stroke="#000" stroke-width="1.5" fill="none"/>
<rect x="107.5" y="533.1" width="559.3" height="414.9" fill="none" stroke="#000" stroke-width="3"/>
<g font-family="Liberation Sans, sans-serif" fill="#000"><path transform="translate(39.86,427.73) scale(25,-25)" d="M0.276,0H0.364V0.69H0.292C0.272,0.615 0.215,0.579 0.108,0.574V0.509H0.276Z"/><text x="53.76" y="427.73" font-size="25">0</text><path transform="translate(67.66,415.73) scale(19.5,-19.5)" d="M0.276,0H0.364V0.69H0.292C0.272,0.615 0.215,0.579 0.108,0.574V0.509H0.276Z"/></g>
<g font-family="Liberation Sans, sans-serif" fill="#000"><path transform="translate(39.86,293.77) scale(25,-25)" d="M0.276,0H0.364V0.69H0.292C0.272,0.615 0.215,0.579 0.108,0.574V0.509H0.276Z"/><text x="53.76" y="293.77" font-size="25">0</text><text x="67.66" y="281.77" font-size="19.5">2</text></g>
<g font-family="Liberation Sans, sans-serif" fill="#000"><path transform="translate(39.86,159.81) scale(25,-25)" d="M0.276,0H0.364V0.69H0.292C0.272,0.615 0.215,0.579 0.108,0.574V0.509H0.276Z"/><text x="53.76" y="159.81" font-size="25">0</text><text x="67.66" y="147.81" font-size="19.5">3</text></g>
<g font-family="Liberation Sans, sans-serif" fill="#000"><path transform="translate(39.86,25.85) scale(25,-25)" d="M0.276,0H0.364V0.69H0.292C0.272,0.615 0.215,0.579 0.108,0.574V0.509H0.276Z"/><text x="53.76" y="25.85" font-size="25">0</text><text x="67.66" y="13.85" font-size="19.5">4</text></g>
<g font-family="Liberation Sans, sans-serif" fill="#000"><path transform="translate(69.53,465.7) scale(25,-25)" d="M0.276,0H0.364V0.69H0.292C0.272,0.615 0.215,0.579 0.108,0.574V0.509H0.276Z"/><text x="83.43" y="465.7" font-size="25">0</text><text x="97.33" y="453.7" font-size="19.5">-</text><text x="103.83" y="453.7" font-size="19.5">6</text></g>
<g font-family="Liberation Sans, sans-serif" fill="#000"><path transform="translate(177.85,465.7) scale(25,-25)" d="M0.276,0H0.364V0.69H0.292C0.272,0.615 0.215,0.579 0.108,0.574V0.509H0.276Z"/><text x="191.75" y="465.7" font-size="25">0</text><text x="205.65" y="453.7" font-size="19.5">-</text><text x="212.15" y="453.7" font-size="19.5">5</text></g>
<g font-family="Liberation Sans, sans-serif" fill="#000"><path transform="translate(286.17,465.7) scale(25,-25)" d="M0.276,0H0.364V0.69H0.292C0.272,0.615 0.215,0.579 0.108,0.574V0.509H0.276Z"/><text x="300.07" y="465.7" font-size="25">0</text><text x="313.97" y="453.7" font-size="19.5">-</text><text x="320.47" y="453.7" font-size="19.5">4</text></g>
<g font-family="Liberation Sans, sans-serif" fill="#000"><path transform="translate(394.49,465.7) scale(25,-25)" d="M0.276,0H0.364V0.69H0.292C0.272,0.615 0.215,0.579 0.108,0.574V0.509H0.276Z"/><text x="408.39" y="465.7" font-size="25">0</text><text x="422.29" y="453.7" font-size="19.5">-</text><text x="428.79" y="453.7" font-size="19.5">3</text></g>
<g font-family="Liberation Sans, sans-serif" fill="#000"><path transform="translate(502.81,465.7) scale(25,-25)" d="M0.276,0H0.364V0.69H0.292C0.272,0.615 0.215,0.579 0.108,0.574V0.509H0.276Z"/><text x="516.71" y="465.7" font-size="25">0</text><text x="530.61" y="453.7" font-size="19.5">-</text><text x="537.11" y="453.7" font-size="19.5">2</text></g>
<g font-family="Liberation Sans, sans-serif" fill="#000"><path transform="translate(611.13,465.7) scale(25,-25)" d="M0.276,0H0.364V0.69H0.292C0.272,0.615 0.215,0.579 0.108,0.574V0.509H0.276Z"/><text x="625.03" y="465.7" font-size="25">0</text><text x="638.93" y="453.7" font-size="19.5">-</text><path transform="translate(645.43,453.7) scale(19.5,-19.5)" d="M0.276,0H0.364V0.69H0.292C0.272,0.615 0.215,0.579 0.108,0.574V0.509H0.276Z"/></g>
<g font-family="Liberation Sans, sans-serif" fill="#000"><path transform="translate(48.06,862.33) scale(25,-25)" d="M0.276,0H0.364V0.69H0.292C0.272,0.615 0.215,0.579 0.108,0.574V0.509H0.276Z"/><text x="61.96" y="862.33" font-size="25">0</text><text x="75.86" y="850.33" font-size="19.5">-</text><text x="82.36" y="850.33" font-size="19.5">2</text></g>
<g font-family="Liberation Sans, sans-serif" fill="#000"><path transform="translate(48.06,724.03) scale(25,-25)" d="M0.276,0H0.364V0.69H0.292C0.272,0.615 0.215,0.579 0.108,0.574V0.509H0.276Z"/><text x="61.96" y="724.03" font-size="25">0</text><text x="75.86" y="712.03" font-size="19.5">-</text><path transform="translate(82.36,712.03) scale(19.5,-19.5)" d="M0.276,0H0.364V0.69H0.292C0.272,0.615 0.215,0.579 0.108,0.574V0.509H0.276Z"/></g>
<g font-family="Liberation Sans, sans-serif" fill="#000"><path transform="translate(54.56,585.73) scale(25,-25)" d="M0.276,0H0.364V0.69H0.292C0.272,0.615 0.215,0.579 0.108,0.574V0.509H0.276Z"/><text x="68.46" y="585.73" font-size="25">0</text><text x="82.36" y="573.73" font-size="19.5">0</text></g>
<g font-family="Liberation Sans, sans-serif" fill="#000"><path transform="translate(84.43,983) scale(25,-25)" d="M0.276,0H0.364V0.69H0.292C0.272,0.615 0.215,0.579 0.108,0.574V0.509H0.276Z"/><text x="98.33" y="983" font-size="25">0</text><text x="112.23" y="971" font-size="19.5">-</text><path transform="translate(118.73,971) scale(19.5,-19.5)" d="M0.276,0H0.364V0.69H0.292C0.272,0.615 0.215,0.579 0.108,0.574V0.509H0.276Z"/></g>
<g font-family="Liberation Sans, sans-serif" fill="#000"><path transform="translate(199.54,983) scale(25,-25)" d="M0.276,0H0.364V0.69H0.292C0.272,0.615 0.215,0.579 0.108,0.574V0.509H0.276Z"/><text x="213.44" y="983" font-size="25">0</text><text x="227.34" y="971" font-size="19.5">0</text></g>
<g font-family="Liberation Sans, sans-serif" fill="#000"><path transform="translate(311.4,983) scale(25,-25)" d="M0.276,0H0.364V0.69H0.292C0.272,0.615 0.215,0.579 0.108,0.574V0.509H0.276Z"/><text x="325.3" y="983" font-size="25">0</text><path transform="translate(339.2,971) scale(19.5,-19.5)" d="M0.276,0H0.364V0.69H0.292C0.272,0.615 0.215,0.579 0.108,0.574V0.509H0.276Z"/></g>
<g font-family="Liberation Sans, sans-serif" fill="#000"><path transform="translate(423.26,983) scale(25,-25)" d="M0.276,0H0.364V0.69H0.292C0.272,0.615 0.215,0.579 0.108,0.574V0.509H0.276Z"/><text x="437.16" y="983" font-size="25">0</text><text x="451.06" y="971" font-size="19.5">2</text></g>
<g font-family="Liberation Sans, sans-serif" fill="#000"><path transform="translate(535.12,983) scale(25,-25)" d="M0.276,0H0.364V0.69H0.292C0.272,0.615 0.215,0.579 0.108,0.574V0.509H0.276Z"/><text x="549.02" y="983" font-size="25">0</text><text x="562.92" y="971" font-size="19.5">3</text></g>
<g font-family="Liberation Sans, sans-serif" fill="#000"><path transform="translate(646.98,983) scale(25,-25)" d="M0.276,0H0.364V0.69H0.292C0.272,0.615 0.215,0.579 0.108,0.574V0.509H0.276Z"/><text x="660.88" y="983" font-size="25">0</text><text x="674.78" y="971" font-size="19.5">4</text></g>
<g transform="translate(11.1,265.6) rotate(-90)"><text transform="matrix(0.403,0,0,0.326,-1.438,15.349)" font-family="Liberation Serif" font-style="italic" font-size="100" fill="#000" stroke="#fff" stroke-width="0.96">η</text></g>
<path d="M0 234.6C8.775 247.13,26.325 247.13,35.1 234.6L35.1 234.6C26.325 244.333,8.775 244.333,0 234.6Z" fill="#000"/><path d="M0.625 235.225C8.775 246.297,26.325 246.297,34.475 235.225" fill="none" stroke="#000" stroke-width="1.25" stroke-linecap="round"/>
<g transform="translate(2.3,232.9) rotate(-90)"><text transform="matrix(0.437,0,0,0.359,-2.856,23.5)" font-family="Liberation Serif" font-style="italic" font-size="100" fill="#000" stroke="#fff" stroke-width="0.88">T</text></g>
<g transform="translate(22.2,206.5) rotate(-90)"><text transform="matrix(0.275,0,0,0.413,-1.049,4.252)" font-family="Liberation Serif" font-style="normal" font-size="100" fill="#000">,</text></g>
<path d="M18.29 191.7C14.456 190.04,12.326 187.716,12.539 185.558C12.965 182.57,17.225 180.744,22.337 179.914" fill="none" stroke="#000" stroke-width="1.9" stroke-linecap="round"/><path d="M12.326 175.1L22.337 179.914" fill="none" stroke="#000" stroke-width="1.3" stroke-linecap="round"/><path d="M22.337 179.914C25.319 181.076,28.94 181.989,32.774 182.404" fill="none" stroke="#000" stroke-width="1.9" stroke-linecap="round"/>
<circle cx="4.4" cy="183.7" r="1.9" fill="#000"/>
<path d="M0 170.8C8.625 159.869,25.875 159.869,34.5 170.8L34.5 170.8C25.875 162.667,8.625 162.667,0 170.8Z" fill="#000"/><path d="M0.625 170.175C8.625 160.703,25.875 160.703,33.875 170.175" fill="none" stroke="#000" stroke-width="1.25" stroke-linecap="round"/>
<g transform="translate(14.6,849.5) rotate(-90)"><text transform="matrix(0.406,0,0,0.337,-1.446,15.9)" font-family="Liberation Serif" font-style="italic" font-size="100" fill="#000" stroke="#fff" stroke-width="0.942">η</text></g>
<path d="M4.1 819C12.875 830.73,30.425 830.73,39.2 819L39.2 819C30.425 827.933,12.875 827.933,4.1 819Z" fill="#000"/><path d="M4.725 819.625C12.875 829.897,30.425 829.897,38.575 819.625" fill="none" stroke="#000" stroke-width="1.25" stroke-linecap="round"/>
<g transform="translate(6.4,816.7) rotate(-90)"><text transform="matrix(0.437,0,0,0.367,-2.856,24)" font-family="Liberation Serif" font-style="italic" font-size="100" fill="#000" stroke="#fff" stroke-width="0.872">T</text></g>
<g transform="translate(26.3,790.3) rotate(-90)"><text transform="matrix(0.275,0,0,0.413,-1.049,4.252)" font-family="Liberation Serif" font-style="normal" font-size="100" fill="#000">,</text></g>
<path d="M21.85 776.4C17.98 774.71,15.83 772.344,16.045 770.147C16.475 767.105,20.775 765.246,25.935 764.401" fill="none" stroke="#000" stroke-width="1.9" stroke-linecap="round"/><path d="M15.83 759.5L25.935 764.401" fill="none" stroke="#000" stroke-width="1.3" stroke-linecap="round"/><path d="M25.935 764.401C28.945 765.584,32.6 766.514,36.47 766.936" fill="none" stroke="#000" stroke-width="1.9" stroke-linecap="round"/>
<circle cx="8.4" cy="767.9" r="1.9" fill="#000"/>
<path d="M4.1 755.8C12.875 744.07,30.425 744.07,39.2 755.8L39.2 755.8C30.425 746.867,12.875 746.867,4.1 755.8Z" fill="#000"/><path d="M4.725 755.175C12.875 744.903,30.425 744.903,38.575 755.175" fill="none" stroke="#000" stroke-width="1.25" stroke-linecap="round"/>
<g transform="translate(4.1,741.5) rotate(-90)"><text transform="matrix(0.504,0,0,0.516,-0,33.996)" font-family="Liberation Serif" font-style="normal" font-size="100" fill="#000" stroke="#fff" stroke-width="0.588">/</text></g>
<g transform="translate(14.6,724.6) rotate(-90)"><text transform="matrix(0.391,0,0,0.337,-1.395,15.9)" font-family="Liberation Serif" font-style="italic" font-size="100" fill="#000" stroke="#fff" stroke-width="0.96">η</text></g>
<g transform="translate(18.5,705.2) rotate(-90)"><text transform="matrix(0.234,0,0,0.243,-0.89,16.163)" font-family="Liberation Serif" font-style="normal" font-size="100" fill="#000" stroke="#fff" stroke-width="1.259">0</text></g>
<path d="M4.1 678.9C12.875 690.63,30.425 690.63,39.2 678.9L39.2 678.9C30.425 687.833,12.875 687.833,4.1 678.9Z" fill="#000"/><path d="M4.725 679.525C12.875 689.797,30.425 689.797,38.575 679.525" fill="none" stroke="#000" stroke-width="1.25" stroke-linecap="round"/>
<g transform="translate(6.4,676.6) rotate(-90)"><text transform="matrix(0.437,0,0,0.371,-2.856,24.3)" font-family="Liberation Serif" font-style="italic" font-size="100" fill="#000" stroke="#fff" stroke-width="0.867">T</text></g>
<path d="M4.1 650.2C12.875 638.47,30.425 638.47,39.2 650.2L39.2 650.2C30.425 641.267,12.875 641.267,4.1 650.2Z" fill="#000"/><path d="M4.725 649.575C12.875 639.303,30.425 639.303,38.575 649.575" fill="none" stroke="#000" stroke-width="1.25" stroke-linecap="round"/>
<path d="M460.6 489.64C462.35 485.716,464.8 483.536,467.075 483.754C470.225 484.19,472.15 488.55,473.025 493.782" fill="none" stroke="#000" stroke-width="1.9" stroke-linecap="round"/><path d="M478.1 483.536L473.025 493.782" fill="none" stroke="#000" stroke-width="1.3" stroke-linecap="round"/><path d="M473.025 493.782C471.8 496.834,470.837 500.54,470.4 504.464" fill="none" stroke="#000" stroke-width="1.9" stroke-linecap="round"/>
<circle cx="469.9" cy="476.5" r="2" fill="#000"/>
<path d="M464.9 1007.51C466.61 1003.604,469.004 1001.434,471.227 1001.651C474.305 1002.085,476.186 1006.425,477.041 1011.633" fill="none" stroke="#000" stroke-width="1.9" stroke-linecap="round"/><path d="M482 1001.434L477.041 1011.633" fill="none" stroke="#000" stroke-width="1.3" stroke-linecap="round"/><path d="M477.041 1011.633C475.844 1014.671,474.904 1018.36,474.476 1022.266" fill="none" stroke="#000" stroke-width="1.9" stroke-linecap="round"/>
<circle cx="473.8" cy="994.9" r="2" fill="#000"/>
<g transform="translate(486,990.3)"><text transform="matrix(0.497,0,0,0.593,-0,39.12)" font-family="Liberation Serif" font-style="normal" font-size="100" fill="#000" stroke="#fff" stroke-width="0.55">/</text></g>
<path d="M502.9 1007.51C504.64 1003.604,507.076 1001.434,509.338 1001.651C512.47 1002.085,514.384 1006.425,515.254 1011.633" fill="none" stroke="#000" stroke-width="1.9" stroke-linecap="round"/><path d="M520.3 1001.434L515.254 1011.633" fill="none" stroke="#000" stroke-width="1.3" stroke-linecap="round"/><path d="M515.254 1011.633C514.036 1014.671,513.079 1018.36,512.644 1022.266" fill="none" stroke="#000" stroke-width="1.9" stroke-linecap="round"/>
<circle cx="511.7" cy="994.9" r="2" fill="#000"/>
<g transform="translate(522,1008.9)"><text transform="matrix(0.266,0,0,0.231,-0.818,10.875)" font-family="Liberation Serif" font-style="italic" font-size="100" fill="#000" stroke="#fff" stroke-width="1.208">c</text></g>
<path d="M587 59.2C575.736 67.875,575.736 85.225,587 93.9L587 93.9C578.533 85.225,578.533 67.875,587 59.2Z" fill="#000"/><path d="M586.375 59.825C576.569 67.875,576.569 85.225,586.375 93.275" fill="none" stroke="#000" stroke-width="1.25" stroke-linecap="round"/>
<g transform="translate(590.5,69.7)"><text transform="matrix(0.415,0,0,0.336,-1.46,15.772)" font-family="Liberation Serif" font-style="normal" font-size="100" fill="#000" stroke="#fff" stroke-width="0.666">a</text></g>
<path d="M608.9 59.2C619.831 67.875,619.831 85.225,608.9 93.9L608.9 93.9C617.033 85.225,617.033 67.875,608.9 59.2Z" fill="#000"/><path d="M609.525 59.825C618.997 67.875,618.997 85.225,609.525 93.275" fill="none" stroke="#000" stroke-width="1.25" stroke-linecap="round"/>
<path d="M587.1 576.75C575.236 585.513,575.236 603.037,587.1 611.8L587.1 611.8C578.033 603.037,578.033 585.513,587.1 576.75Z" fill="#000"/><path d="M586.475 577.375C576.07 585.513,576.07 603.037,586.475 611.175" fill="none" stroke="#000" stroke-width="1.25" stroke-linecap="round"/>
<g transform="translate(590,578.85)"><text transform="matrix(0.396,0,0,0.356,-0,24.702)" font-family="Liberation Serif" font-style="normal" font-size="100" fill="#000" stroke="#fff" stroke-width="0.665">b</text></g>
<path d="M610.9 576.75C622.897 585.513,622.897 603.037,610.9 611.8L610.9 611.8C620.1 603.037,620.1 585.513,610.9 576.75Z" fill="#000"/><path d="M611.525 577.375C622.064 585.513,622.064 603.037,611.525 611.175" fill="none" stroke="#000" stroke-width="1.25" stroke-linecap="round"/>
<path d="M454 163.392C449.4 162.8,447.1 167.24,444.8 170.2C442.5 173.456,440.2 177.6,436.06 177.6C432.84 177.6,431 174.344,431 170.2C431 166.056,432.84 162.8,436.06 162.8C440.2 162.8,442.5 166.944,444.8 170.2C447.1 173.16,449.4 177.304,454 177.008" fill="none" stroke="#0000FF" stroke-width="1.6" stroke-linecap="round"/>
<path d="M467.9 169.34C469.61 165.416,472.004 163.236,474.227 163.454C477.305 163.89,479.186 168.25,480.041 173.482" fill="none" stroke="#0000FF" stroke-width="1.9" stroke-linecap="round"/><path d="M485 163.236L480.041 173.482" fill="none" stroke="#0000FF" stroke-width="1.3" stroke-linecap="round"/><path d="M480.041 173.482C478.844 176.534,477.904 180.24,477.476 184.164" fill="none" stroke="#0000FF" stroke-width="1.9" stroke-linecap="round"/>
<circle cx="476.5" cy="156.6" r="1.9" fill="#0000FF"/>
<rect x="489.6" y="156.6" width="16.7" height="1.8" fill="#0000FF"/>
<g transform="translate(511,152.6)"><text transform="matrix(0.302,0,0,0.239,-0.413,10.967)" font-family="Liberation Serif" font-style="italic" font-size="100" fill="#0000FF">ν</text></g>
<path d="M489 669.992C484.4 669.4,482.1 673.84,479.8 676.8C477.5 680.056,475.2 684.2,471.06 684.2C467.84 684.2,466 680.944,466 676.8C466 672.656,467.84 669.4,471.06 669.4C475.2 669.4,477.5 673.544,479.8 676.8C482.1 679.76,484.4 683.904,489 683.608" fill="none" stroke="#0000FF" stroke-width="1.6" stroke-linecap="round"/>
<path d="M502.9 675.94C504.61 672.016,507.004 669.836,509.227 670.054C512.305 670.49,514.186 674.85,515.041 680.082" fill="none" stroke="#0000FF" stroke-width="1.9" stroke-linecap="round"/><path d="M520 669.836L515.041 680.082" fill="none" stroke="#0000FF" stroke-width="1.3" stroke-linecap="round"/><path d="M515.041 680.082C513.844 683.134,512.904 686.84,512.476 690.764" fill="none" stroke="#0000FF" stroke-width="1.9" stroke-linecap="round"/>
<circle cx="511.5" cy="663.2" r="1.9" fill="#0000FF"/>
<rect x="524.6" y="663.2" width="16.7" height="1.8" fill="#0000FF"/>
<g transform="translate(546,659.2)"><text transform="matrix(0.302,0,0,0.239,-0.413,10.967)" font-family="Liberation Serif" font-style="italic" font-size="100" fill="#0000FF">ν</text></g>
<path d="M152.6 612.076C148.06 611.5,145.79 615.82,143.52 618.7C141.25 621.868,138.98 625.9,134.894 625.9C131.716 625.9,129.9 622.732,129.9 618.7C129.9 614.668,131.716 611.5,134.894 611.5C138.98 611.5,141.25 615.532,143.52 618.7C145.79 621.58,148.06 625.612,152.6 625.324" fill="none" stroke="#000" stroke-width="1.6" stroke-linecap="round"/>
<path d="M166.4 618.06C168.08 614.244,170.432 612.124,172.616 612.336C175.64 612.76,177.488 617,178.328 622.088" fill="none" stroke="#000" stroke-width="1.9" stroke-linecap="round"/><path d="M183.2 612.124L178.328 622.088" fill="none" stroke="#000" stroke-width="1.3" stroke-linecap="round"/><path d="M178.328 622.088C177.152 625.056,176.228 628.66,175.808 632.476" fill="none" stroke="#000" stroke-width="1.9" stroke-linecap="round"/>
<circle cx="175.5" cy="605.1" r="1.9" fill="#000"/>
<g transform="translate(186.7,596.6)"><text transform="matrix(0.281,0,0,0.236,-1.069,15.67)" font-family="Liberation Serif" font-style="normal" font-size="100" fill="#000" stroke="#fff" stroke-width="1.549">0</text></g>
<g transform="translate(230.7,888.8)"><text transform="matrix(0.352,0,0,0.359,-3.096,23.7)" font-family="Liberation Serif" font-style="normal" font-size="100" fill="#000" stroke="#fff" stroke-width="0.562">1</text></g>
</svg>
</body></html>
